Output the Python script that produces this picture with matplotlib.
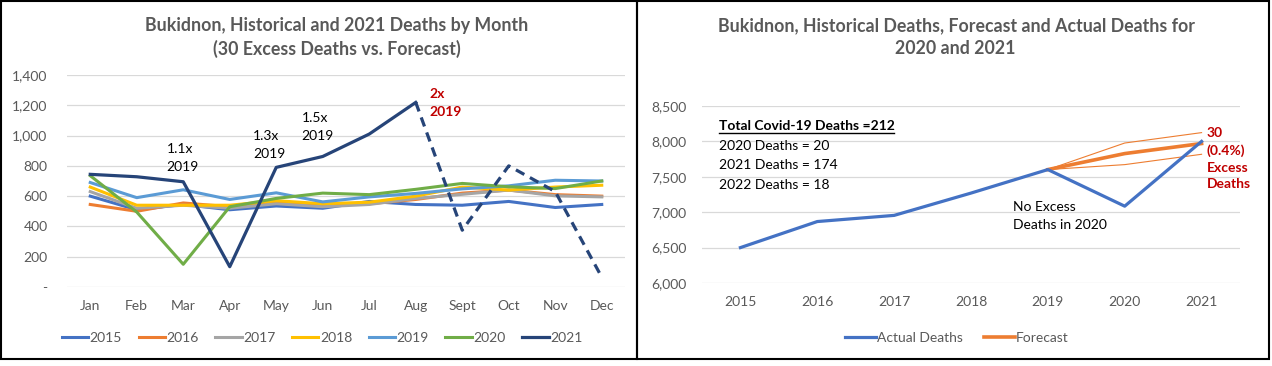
import matplotlib
matplotlib.use("Agg")
import matplotlib.pyplot as plt
from matplotlib.patches import Rectangle
from matplotlib.lines import Line2D
from matplotlib.ticker import FuncFormatter

plt.rcParams['font.family'] = ['Lato', 'DejaVu Sans']

# ---- data: monthly deaths (left chart) ----
months = ["Jan", "Feb", "Mar", "Apr", "May", "Jun", "Jul", "Aug", "Sept", "Oct", "Nov", "Dec"]
d2015 = [600, 510, 545, 510, 535, 520, 565, 545, 540, 565, 525, 545]
d2016 = [545, 500, 555, 530, 560, 540, 550, 578, 620, 640, 610, 600]
d2017 = [630, 520, 540, 520, 550, 530, 545, 585, 612, 640, 602, 595]
d2018 = [660, 540, 540, 540, 570, 550, 560, 600, 660, 640, 660, 672]
d2019 = [690, 590, 642, 578, 622, 562, 595, 618, 648, 668, 705, 700]
d2020 = [735, 495, 150, 530, 585, 620, 610, 645, 684, 662, 650, 700]
d2021 = [744, 728, 695, 134, 790, 862, 1010, 1219, 375, 800, 630, 65]

years_left = ["2015", "2016", "2017", "2018", "2019", "2020", "2021"]
colors_left = ["#4472C4", "#ED7D31", "#A5A5A5", "#FFC000", "#5B9BD5", "#70AD47", "#264478"]

# ---- data: annual deaths (right chart) ----
years = ["2015", "2016", "2017", "2018", "2019", "2020", "2021"]
actual = [6500, 6868, 6955, 7270, 7602, 7085, 8000]
forecast = [None, None, None, None, 7602, 7828, 7970]
fc_upper = [None, None, None, None, 7602, 7977, 8124]
fc_lower = [None, None, None, None, 7602, 7672, 7818]

gray = "#595959"
red = "#C00000"

fig = plt.figure(figsize=(12.72, 3.66), dpi=100)

# ================= left chart =================
ax1 = fig.add_axes([67/1272, 1-287/366, 558/1272, 212/366])
series = [d2015, d2016, d2017, d2018, d2019, d2020]
x = list(range(len(months)))
for vals, lab, col in zip(series, years_left[:6], colors_left[:6]):
    ax1.plot(x, vals, color=col, lw=2.2, label=lab, solid_joinstyle="round")
# 2021: solid through Aug, dashed afterwards
ax1.plot(x[:8], d2021[:8], color=colors_left[6], lw=2.3, label="2021", zorder=5)
ax1.plot(x[7:], d2021[7:], color=colors_left[6], lw=2.3, ls=(0, (3, 2)), zorder=5)

ax1.set_xlim(-0.5, 11.5)
ax1.set_ylim(0, 1400)
ax1.set_yticks(range(0, 1401, 200))
ax1.yaxis.set_major_formatter(FuncFormatter(lambda v, p: "-" if v == 0 else f"{v:,.0f}"))
ax1.set_xticks(x)
ax1.set_xticklabels(months)
ax1.grid(axis="y", color="#D9D9D9", lw=0.9)
ax1.set_axisbelow(True)
for s in ax1.spines.values():
    s.set_visible(False)
ax1.tick_params(length=0, labelsize=10, labelcolor=gray)
ax1.tick_params(axis="y", pad=14)
ax1.tick_params(axis="x", pad=9)

ax1.text(1.64, 855, "1.1x\n2019", fontsize=10, va="center", ha="left", linespacing=1.6)
ax1.text(3.5, 936, "1.3x\n2019", fontsize=10, va="center", ha="left", linespacing=1.6)
ax1.text(4.54, 1055, "1.5x\n2019", fontsize=10, va="center", ha="left", linespacing=1.6)
ax1.text(7.3, 1213, "2x\n2019", fontsize=10, va="center", ha="left", linespacing=1.6,
         color=red, fontweight="bold")

fig.text(337/1272, 1-25/366, "Bukidnon, Historical and 2021 Deaths by Month",
         ha="center", va="center", fontsize=12.8, fontweight="bold", color=gray)
fig.text(337/1272, 1-49/366, "(30 Excess Deaths vs. Forecast)",
         ha="center", va="center", fontsize=12.8, fontweight="bold", color=gray)

h, l = ax1.get_legend_handles_labels()
fig.legend(h, l, loc="center", bbox_to_anchor=(322/1272, 1-338/366), ncol=7,
           frameon=False, fontsize=10, handlelength=1.9, handletextpad=0.1,
           columnspacing=1.2, labelcolor=gray)

# ================= right chart =================
ax2 = fig.add_axes([702/1272, 1-283/366, 538/1272, 177/366])
xr = list(range(len(years)))
ax2.plot(xr, actual, color="#4472C4", lw=2.3, label="Actual Deaths", zorder=4)
ax2.plot(xr[4:], forecast[4:], color="#ED7D31", lw=2.6, label="Forecast", zorder=3)
ax2.plot(xr[4:], fc_upper[4:], color="#ED7D31", lw=0.8, zorder=3)
ax2.plot(xr[4:], fc_lower[4:], color="#ED7D31", lw=0.8, zorder=3)

ax2.set_xlim(-0.5, 6.5)
ax2.set_ylim(6000, 8500)
ax2.set_yticks(range(6000, 8501, 500))
ax2.yaxis.set_major_formatter(FuncFormatter(lambda v, p: f"{v:,.0f}"))
ax2.set_xticks(xr)
ax2.set_xticklabels(years)
ax2.grid(axis="y", color="#D9D9D9", lw=0.9)
ax2.set_axisbelow(True)
for s in ax2.spines.values():
    s.set_visible(False)
ax2.tick_params(length=0, labelsize=10, labelcolor=gray)
ax2.tick_params(axis="y", pad=11)
ax2.tick_params(axis="x", pad=9)

t_total = ax2.text(-0.285, 8213, "Total Covid-19 Deaths =212", fontsize=10,
                   fontweight="bold", va="center", ha="left")
ax2.text(-0.285, 7931, "2020 Deaths = 20", fontsize=10, va="center", ha="left")
ax2.text(-0.285, 7667, "2021 Deaths = 174", fontsize=10, va="center", ha="left")
ax2.text(-0.285, 7390, "2022 Deaths = 18", fontsize=10, va="center", ha="left")
ax2.text(3.54, 6942, "No Excess\nDeaths in 2020", fontsize=10, va="center", ha="left",
         linespacing=1.6)
ax2.text(6.07, 7754, "30\n(0.4%)\nExcess\nDeaths", fontsize=10, va="center", ha="left",
         linespacing=1.47, color=red, fontweight="bold")

fig.text(956/1272, 1-26/366, "Bukidnon, Historical Deaths, Forecast and Actual Deaths for",
         ha="center", va="center", fontsize=12.8, fontweight="bold", color=gray)
fig.text(955/1272, 1-48/366, "2020 and 2021",
         ha="center", va="center", fontsize=12.8, fontweight="bold", color=gray)

h2, l2 = ax2.get_legend_handles_labels()
fig.legend(h2, l2, loc="center", bbox_to_anchor=(957/1272, 1-338/366), ncol=2,
           frameon=False, fontsize=10, handlelength=2.2, handletextpad=0.1,
           columnspacing=1.5, labelcolor=gray)

# panel borders
fig.add_artist(Rectangle((1/1272, 7/366), 636/1272, 358/366, transform=fig.transFigure,
                         fill=False, ec="black", lw=1.5))
fig.add_artist(Rectangle((637/1272, 7/366), 632/1272, 358/366, transform=fig.transFigure,
                         fill=False, ec="black", lw=1.5))

# underline for the bold total label
fig.canvas.draw()
bb = t_total.get_window_extent()
fig.add_artist(Line2D([bb.x0 / 1272, bb.x1 / 1272], [(bb.y0 - 1) / 366, (bb.y0 - 1) / 366],
                      transform=fig.transFigure, color="black", lw=1.0))

fig.savefig("out.png", dpi=100)
